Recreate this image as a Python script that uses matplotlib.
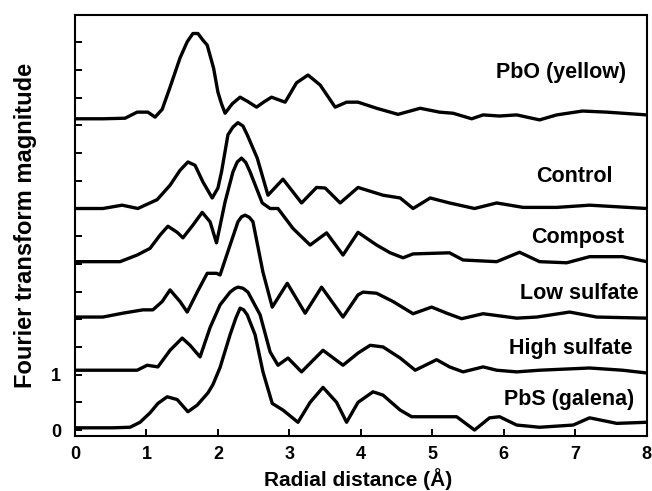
import matplotlib
matplotlib.use("Agg")
import matplotlib.pyplot as plt
import numpy as np

plt.rcParams["font.family"] = ["Liberation Sans", "DejaVu Sans"]
plt.rcParams["font.weight"] = "bold"

# --------------------------------------
# traced spectra (offset already included)
# --------------------------------------
pbo_x = [0, 0.39, 0.7, 0.87, 1.02, 1.12, 1.22, 1.33, 1.47, 1.57, 1.65, 1.72, 1.79, 1.85, 1.94, 2.0,
         2.05, 2.1, 2.2, 2.31, 2.42, 2.54, 2.65, 2.75, 2.94, 3.1, 3.26, 3.43, 3.64, 3.8, 3.96,
         4.22, 4.52, 4.83, 5.1, 5.29, 5.55, 5.71, 5.94, 6.18, 6.5, 6.74, 7.1, 7.44, 8.0]
pbo_y = [5.62, 5.62, 5.63, 5.74, 5.74, 5.65, 5.79, 6.19, 6.72, 7.01, 7.16, 7.16, 7.04, 6.95, 6.53, 6.10,
         5.89, 5.72, 5.89, 6.01, 5.93, 5.83, 5.93, 6.01, 5.92, 6.27, 6.41, 6.23, 5.83, 5.92, 5.92,
         5.81, 5.70, 5.81, 5.74, 5.72, 5.62, 5.69, 5.67, 5.69, 5.60, 5.69, 5.76, 5.74, 5.69]

control_x = [0, 0.39, 0.66, 0.88, 1.15, 1.33, 1.47, 1.58, 1.68, 1.79, 1.92, 2.0, 2.05, 2.14, 2.21, 2.28,
             2.35, 2.41, 2.55, 2.7, 2.91, 3.17, 3.38, 3.5, 3.71, 3.96, 4.31, 4.55, 4.73, 4.97, 5.24, 5.59,
             5.9, 6.27, 6.74, 7.2, 8.0]
control_y = [4.00, 4.00, 4.06, 4.00, 4.16, 4.42, 4.69, 4.84, 4.78, 4.48, 4.19, 4.37, 4.66, 5.33, 5.47, 5.55,
             5.49, 5.33, 4.91, 4.24, 4.53, 4.10, 4.38, 4.37, 4.10, 4.38, 4.24, 4.19, 4.00, 4.19, 4.10, 4.00,
             4.10, 4.02, 4.02, 4.06, 4.00]

compost_x = [0, 0.63, 0.87, 1.05, 1.19, 1.3, 1.43, 1.51, 1.65, 1.78, 1.89, 1.98, 2.1, 2.21, 2.27, 2.33,
             2.39, 2.45, 2.62, 2.73, 2.84, 3.05, 3.29, 3.52, 3.75, 3.96, 4.22, 4.41, 4.59, 4.73, 5.24, 5.43,
             5.9, 6.22, 6.5, 6.88, 7.2, 7.66, 8.0]
compost_y = [3.04, 3.04, 3.16, 3.28, 3.52, 3.68, 3.57, 3.47, 3.70, 3.93, 3.76, 3.38, 4.12, 4.66, 4.84, 4.91,
             4.83, 4.66, 4.10, 4.00, 4.00, 3.64, 3.34, 3.56, 3.16, 3.57, 3.34, 3.20, 3.11, 3.18, 3.20, 3.07,
             3.04, 3.21, 3.04, 3.02, 3.13, 3.13, 3.04]

low_x = [0, 0.39, 0.67, 0.95, 1.09, 1.22, 1.33, 1.47, 1.57, 1.71, 1.85, 1.98, 2.03, 2.17, 2.28,
         2.33, 2.38, 2.44, 2.49, 2.63, 2.76, 2.97, 3.22, 3.45, 3.75, 3.96, 4.03, 4.22, 4.45, 4.73, 4.99, 5.2,
         5.41, 5.71, 6.18, 6.46, 6.92, 7.3, 8.0]
low_y = [2.04, 2.04, 2.11, 2.17, 2.17, 2.32, 2.53, 2.32, 2.13, 2.49, 2.83, 2.83, 2.80, 3.34, 3.76,
         3.85, 3.88, 3.84, 3.76, 2.85, 2.22, 2.65, 2.11, 2.58, 2.04, 2.44, 2.49, 2.47, 2.32, 2.10, 2.22, 2.11,
         2.01, 2.10, 2.02, 2.04, 2.13, 2.04, 2.02]

high_x = [0, 0.87, 1.01, 1.16, 1.33, 1.5, 1.61, 1.75, 1.89, 2.03, 2.17, 2.23, 2.28, 2.35, 2.42, 2.59, 2.73,
          2.84, 2.98, 3.17, 3.47, 3.75, 3.96, 4.13, 4.31, 4.55, 4.76, 5.06, 5.24, 5.43, 5.71, 5.9,
          6.18, 6.5, 7.2, 7.66, 8.0]
high_y = [1.08, 1.08, 1.17, 1.14, 1.44, 1.66, 1.53, 1.32, 1.85, 2.26, 2.49, 2.55, 2.58, 2.56, 2.49, 2.08, 1.41,
          1.17, 1.30, 1.05, 1.44, 1.17, 1.39, 1.53, 1.50, 1.30, 1.08, 1.27, 1.14, 1.05, 1.14, 1.08,
          1.05, 1.08, 1.12, 1.08, 1.03]

pbs_x = [0, 0.53, 0.77, 0.91, 1.05, 1.16, 1.29, 1.43, 1.58, 1.71, 1.86, 1.93, 2.03, 2.17, 2.25, 2.31,
         2.36, 2.41, 2.52, 2.63, 2.76, 2.91, 3.12, 3.29, 3.47, 3.66, 3.8, 3.96, 4.17, 4.31, 4.55, 4.71,
         4.97, 5.34, 5.59, 5.8, 5.94, 6.18, 6.5, 6.97, 7.2, 7.58, 8.0]
pbs_y = [0.04, 0.04, 0.05, 0.14, 0.31, 0.48, 0.60, 0.55, 0.33, 0.45, 0.67, 0.82, 1.13, 1.72, 2.02, 2.20,
         2.17, 2.08, 1.72, 1.05, 0.48, 0.36, 0.14, 0.50, 0.77, 0.50, 0.14, 0.50, 0.69, 0.63, 0.36, 0.24,
         0.24, 0.24, 0.0, 0.22, 0.24, 0.09, 0.05, 0.09, 0.22, 0.12, 0.14]

names = ["PbO (yellow)", "Control", "Compost", "Low sulfate", "High sulfate", "PbS (galena)"]
xs = [pbo_x, control_x, compost_x, low_x, high_x, pbs_x]
ys = [pbo_y, control_y, compost_y, low_y, high_y, pbs_y]

y_ticks = np.arange(0, 7.01, 0.5)
y_tick_labels = ["0", "", "1"] + [""] * 12

# --------------------------------------
# figure
# --------------------------------------
fig = plt.figure(figsize=(6.52, 4.91), dpi=100)
ax = fig.add_axes([0.115, 0.112, 0.877, 0.857])

for x, y in zip(xs, ys):
    ax.plot(x, y, color="black", lw=2.4, solid_joinstyle="round", solid_capstyle="round")

# label placement (right edge x, centre y)
label_pos = [(7.71, 6.46), (7.52, 4.57), (7.68, 3.48), (7.89, 2.47), (7.80, 1.48), (7.83, 0.56)]
for name, (lx, ly) in zip(names, label_pos):
    ax.text(lx, ly, name, ha="right", va="center", fontsize=15.5, fontweight="bold")

ax.set_xlim(0, 8)
ax.set_ylim(-0.108, 7.49)
ax.set_xticks(range(0, 9))
ax.set_yticks(y_ticks)
ax.set_yticklabels(y_tick_labels)

ax.tick_params(direction="in", length=5, width=1.4, labelsize=13, pad=10)
ax.tick_params(axis="x", pad=7)
for s in ax.spines.values():
    s.set_linewidth(1.5)

ax.set_xlabel("Radial distance (Å)", fontsize=15, fontweight="bold", va="bottom")
ax.xaxis.set_label_coords(0.495, -0.129)
ax.set_ylabel("Fourier transform magnitude", fontsize=17, fontweight="bold")
ax.yaxis.set_label_coords(-0.066, 0.5)

fig.savefig("out.png", dpi=100)
